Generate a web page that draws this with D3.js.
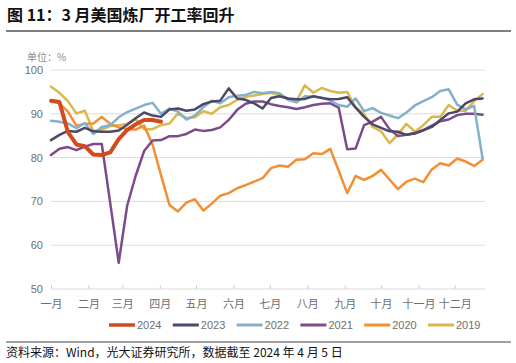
<!DOCTYPE html>
<html><head><meta charset="utf-8">
<script src="https://cdn.jsdelivr.net/npm/d3@7"></script>
<style>
html,body{margin:0;padding:0;background:#fff;}
svg{display:block;font-family:"Liberation Sans","Noto Sans CJK SC",sans-serif;}
</style></head>
<body><svg id="chart" width="516" height="363"></svg>
<script>
const monthLabels = ["一月","二月","三月","四月","五月","六月","七月","八月","九月","十月","十一月","十二月"];
const yTicks = [50,60,70,80,90,100];
const seriesNames = ["2024","2023","2022","2021","2020","2019"];
const seriesColors = ["#d24a1e","#4b4868","#83b1c9","#7b4b8b","#f48e32","#dbb74c"];

const v2024 = [93.0,92.7,85.8,83.0,82.6,80.7,80.6,81.2,84.2,86.3,87.6,88.6,88.6,88.2];
const v2023 = [84.0,85.2,86.1,85.9,86.8,86.0,85.9,85.9,86.2,87.5,89.0,90.3,89.6,89.3,91.0,91.2,90.7,91.0,92.2,92.8,93.0,95.8,93.5,93.2,92.4,91.2,93.6,94.0,93.5,93.3,93.4,94.0,93.6,93.3,93.4,93.8,91.4,89.3,87.6,86.8,86.0,85.9,85.2,85.5,86.2,87.0,88.6,90.1,90.5,92.4,93.3,93.5];
const v2022 = [88.4,88.2,87.8,86.7,87.9,85.4,87.0,87.4,89.2,90.4,91.2,92.0,92.5,90.0,91.2,90.5,88.7,89.6,91.5,93.0,92.4,93.8,94.1,94.3,95.0,94.7,95.0,94.7,93.2,92.6,94.0,93.9,93.7,93.0,92.0,91.6,93.5,90.6,91.3,90.2,89.6,89.0,90.3,91.9,92.9,93.8,95.2,95.6,92.1,91.0,91.8,79.8];
const v2021 = [80.6,82.0,82.4,81.7,82.5,83.1,83.1,69.6,56.0,69.0,75.8,81.5,83.9,84.0,84.9,84.9,85.4,86.4,86.1,86.3,86.9,88.6,90.9,92.3,92.8,92.8,92.2,91.8,91.5,91.1,91.5,92.0,92.3,92.4,91.4,81.9,82.1,87.4,88.2,89.3,86.5,84.9,85.2,85.6,86.3,87.3,88.3,88.7,89.7,90.0,90.0,89.8];
const v2020 = [93.0,92.4,90.5,87.3,87.7,87.8,89.3,87.7,86.9,86.5,86.4,87.3,83.0,76.0,69.2,67.7,69.7,70.5,67.9,69.5,71.3,71.9,73.0,73.7,74.5,75.3,77.6,78.2,77.9,79.5,79.6,81.0,80.8,82.0,77.0,71.9,75.8,74.9,75.8,77.2,75.0,72.8,74.5,75.2,74.4,77.3,78.7,78.2,79.8,79.1,78.1,79.5];
const v2019 = [96.2,94.8,92.9,90.1,90.7,86.0,86.4,87.2,87.4,87.7,88.8,86.5,86.5,87.4,87.8,90.1,89.0,89.2,90.6,90.0,91.5,92.0,93.2,93.9,94.2,94.5,94.8,94.3,93.5,92.9,96.5,94.8,95.9,95.2,94.8,95.0,91.5,89.9,87.0,86.0,83.3,85.3,87.7,85.9,87.4,89.3,89.3,92.0,90.7,90.7,92.9,94.5];
const seriesValues = [v2024,v2023,v2022,v2021,v2020,v2019];

const svg = d3.select("#chart");
const yearStart = new Date(2019,0,1);
const yearEnd = new Date(2019,11,26);
const weekDate = i => d3.timeDay.offset(yearStart, 7*i);

const x = d3.scaleTime().domain([yearStart, yearEnd]).range([51, 485]);
const y = d3.scaleLinear().domain([50,100]).range([289, 70]);

// Title
svg.append("text").attr("x",7).attr("y",21).attr("font-size",16).attr("font-weight","bold")
  .attr("fill","#111").attr("font-family","'Noto Sans CJK SC',sans-serif")
  .text("图 11：3 月美国炼厂开工率回升");
svg.append("line").attr("x1",6).attr("x2",511).attr("y1",31).attr("y2",31)
  .attr("stroke","#7f7f7f").attr("stroke-width",2);

svg.append("text").attr("x",27).attr("y",61).attr("font-size",10).attr("fill","#8c8c8c")
  .attr("font-family","'Noto Sans CJK SC',sans-serif").text("单位：%");

// Gridlines
svg.append("g").selectAll("line").data(yTicks).join("line")
  .attr("x1",51).attr("x2",485).attr("y1",d=>y(d)).attr("y2",d=>y(d))
  .attr("stroke","#dcdcdc").attr("stroke-width",1);

// Y axis labels
svg.append("g").selectAll("text").data(yTicks).join("text")
  .attr("x",43).attr("y",d=>y(d)+4).attr("text-anchor","end")
  .attr("font-size",11).attr("fill","#6e6e6e").text(d=>d);

// X axis ticks and labels
const monthStarts = d3.range(12).map(m => new Date(2019,m,1));
const gx = svg.append("g").attr("transform","translate(0,289)")
  .call(d3.axisBottom(x).tickValues(monthStarts).tickSize(-4).tickPadding(11)
    .tickFormat((d,i)=>monthLabels[i]));
gx.select(".domain").remove();
gx.selectAll(".tick line").attr("stroke","#d0d0d0");
gx.selectAll(".tick text").attr("font-size",11).attr("fill","#6e6e6e")
  .attr("font-family","'Noto Sans CJK SC',sans-serif");

// Lines
const line = d3.line().x((d,i)=>x(weekDate(i))).y(d=>y(d));
const order = [5,4,3,2,1,0];
svg.append("g").selectAll("path").data(order).join("path")
  .attr("d",k=>line(seriesValues[k]))
  .attr("fill","none").attr("stroke",k=>seriesColors[k])
  .attr("stroke-width",k=>k===0?4:2.5).attr("stroke-linejoin","round").attr("stroke-linecap","round");

// Legend
const lg = svg.append("g").selectAll("g").data(seriesNames).join("g")
  .attr("transform",(d,i)=>`translate(${109+i*63.8},325)`);
lg.append("line").attr("x1",0).attr("x2",26).attr("y1",0).attr("y2",0)
  .attr("stroke",(d,i)=>seriesColors[i]).attr("stroke-width",(d,i)=>i===0?3.5:3);
lg.append("text").attr("x",28).attr("y",4).attr("font-size",11).attr("fill","#6e6e6e").text(d=>d);

// Footer
svg.append("line").attr("x1",6).attr("x2",511).attr("y1",342).attr("y2",342)
  .attr("stroke","#444").attr("stroke-width",1);
svg.append("text").attr("x",6).attr("y",357).attr("font-size",12).attr("fill","#111")
  .attr("font-family","'Noto Sans CJK SC',sans-serif")
  .text("资料来源：Wind，光大证券研究所，数据截至 2024 年 4 月 5 日");
</script></body></html>
